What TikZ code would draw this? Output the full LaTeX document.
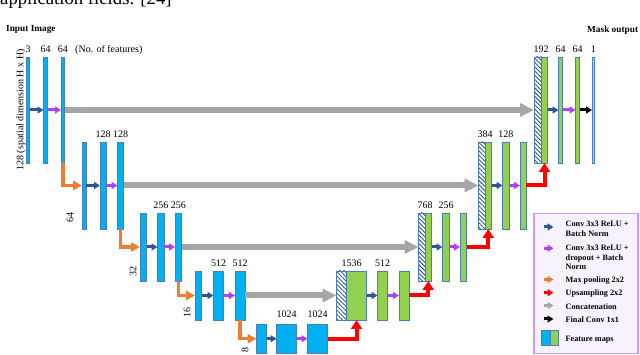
\documentclass[tikz,border=0pt]{standalone}
\usepackage{fontspec}
\setmainfont{Liberation Serif}
\usetikzlibrary{arrows.meta,patterns.meta}
\definecolor{fmblue}{HTML}{00B0F0}
\definecolor{fmgreen}{HTML}{92D050}
\definecolor{fmedge}{HTML}{4A7EBB}
\definecolor{hatchc}{HTML}{2F5597}
\definecolor{cvblue}{HTML}{2F5597}
\definecolor{cvpurple}{HTML}{B040FF}
\definecolor{mporange}{HTML}{ED7D31}
\definecolor{upred}{HTML}{FF0000}
\definecolor{catgray}{HTML}{A6A6A6}
\definecolor{legedge}{HTML}{CC99FF}
\definecolor{legfill}{HTML}{F8F2FF}
\definecolor{outfill}{HTML}{BDD7EE}
\newcommand{\fmap}[6]{\node[#6, minimum width={(#3-#2)*1pt}, minimum height={(#5-#4)*1pt}] (#1) at ({(#2+#3)/2},{(#4+#5)/2}) {};}
\tikzset{
  fmbase/.style={draw=fmedge, line width=0.7pt, inner sep=0pt, outer sep=0pt, rectangle},
  fmb/.style={fmbase, fill=fmblue},
  fmg/.style={fmbase, fill=fmgreen},
  fmh/.style={fmbase, pattern={Lines[angle=-45,distance=3pt,line width=0.9pt]}, pattern color=hatchc},
  fmo/.style={fmbase, fill=outfill},
  lbl/.style={font=\fontsize{10}{12}\selectfont, inner sep=0pt, text height=6.6pt, text depth=0pt},
  hdr/.style={font=\bfseries\fontsize{9.3}{11}\selectfont, inner sep=0pt, text height=6.2pt, text depth=0pt, anchor=west},
  legtxt/.style={font=\bfseries\fontsize{8.2}{10}\selectfont, inner sep=0pt, text height=5.4pt, text depth=0pt, anchor=west},
  small/.style={line width=3pt, -{Triangle[length=6pt,width=7pt]}},
  cv/.style={small, draw=cvblue},
  cvd/.style={small, draw=cvpurple},
  fin/.style={small, draw=black},
  catsmall/.style={small, draw=catgray},
  mp/.style={line width=3.5pt, draw=mporange, -{Triangle[length=9pt,width=9pt]}},
  mpsmall/.style={small, draw=mporange},
  up/.style={line width=4pt, draw=upred, -{Triangle[length=9pt,width=11pt]}},
  upsmall/.style={small, draw=upred},
  cat/.style={line width=6pt, draw=catgray, -{Triangle[length=14pt,width=13pt]}},
}
\begin{document}
\begin{tikzpicture}[x=1pt,y=-1pt]
\clip (0,0) rectangle (640,355);
\useasboundingbox (0,0) rectangle (640,355);
\fill[white] (0,0) rectangle (640,355);
% caption remnant
\node[anchor=base west, inner sep=0pt, font=\fontsize{18.7}{20}\selectfont] (cap) at (0,4.5) {application fields. [24]};
\node[hdr] (inimg) at (6,28) {Input Image};
\node[hdr] (maskout) at (587,29) {Mask output};
% encoder
\fmap{e11}{26.5}{29.5}{57}{163}{fmb}
\fmap{e12}{43.5}{47.5}{57}{163}{fmb}
\fmap{e13}{61}{64.5}{57}{163}{fmb}
\fmap{e21}{82}{86}{142}{229}{fmb}
\fmap{e22}{100}{106}{142}{229}{fmb}
\fmap{e23}{117.5}{123.5}{142}{229}{fmb}
\fmap{e31}{140}{146.5}{213}{281}{fmb}
\fmap{e32}{157.5}{164}{213}{281}{fmb}
\fmap{e33}{175}{181.5}{213}{281}{fmb}
\fmap{e41}{195}{201.5}{271}{320}{fmb}
\fmap{e42}{213.5}{223.5}{271}{320}{fmb}
\fmap{e43}{235}{245}{271}{320}{fmb}
\fmap{e51}{256.5}{266.5}{324}{353.5}{fmb}
\fmap{e52}{276.5}{296.5}{324}{353.5}{fmb}
\fmap{e53}{307.5}{327.5}{324}{353.5}{fmb}
% decoder
\fmap{h4}{336.5}{346.5}{271}{320}{fmh}
\fmap{g4}{346.5}{366.5}{271}{320}{fmg}
\fmap{d42}{377.5}{387.5}{271}{320}{fmg}
\fmap{d43}{399}{409}{271}{320}{fmg}
\fmap{h3}{418.5}{425}{213}{281}{fmh}
\fmap{g3}{425}{431.5}{213}{281}{fmg}
\fmap{d32}{442.5}{449.5}{213}{281}{fmg}
\fmap{d33}{460}{466.5}{213}{281}{fmg}
\fmap{h2}{478.5}{485}{142}{229}{fmh}
\fmap{g2}{485}{491.5}{142}{229}{fmg}
\fmap{d22}{502.5}{509}{142}{229}{fmg}
\fmap{d23}{520}{526}{142}{229}{fmg}
\fmap{h1}{534}{541.5}{57}{163}{fmh}
\fmap{g1}{541.5}{547.5}{57}{163}{fmg}
\fmap{d12}{558.5}{562.5}{57}{163}{fmg}
\fmap{d13}{575.5}{579.5}{57}{163}{fmg}
\fmap{out}{592}{594.5}{57}{163}{fmo}
% feature labels
\node[lbl] (n11) at (e11.north |- 0,49) {3};
\node[lbl] (n12) at (e12.north |- 0,49) {64};
\node[lbl] (n13) at (e13.north |- 0,49) {64};
\node[lbl, anchor=west] (nof) at (75,49) {(No. of features)};
\node[lbl] (n22) at (e22.north |- 0,134) {128};
\node[lbl] (n23) at (e23.north |- 0,134) {128};
\node[lbl] (n32) at (e32.north |- 0,205) {256};
\node[lbl] (n33) at (e33.north |- 0,205) {256};
\node[lbl] (n42) at (e42.north |- 0,263) {512};
\node[lbl] (n43) at (e43.north |- 0,263) {512};
\node[lbl] (n52) at (e52.north |- 0,314) {1024};
\node[lbl] (n53) at (e53.north |- 0,314) {1024};
\node[lbl] (m41) at (351.5,263) {1536};
\node[lbl] (m42) at (d42.north |- 0,263) {512};
\node[lbl] (m31) at (425,205) {768};
\node[lbl] (m32) at (d32.north |- 0,205) {256};
\node[lbl] (m21) at (485,134) {384};
\node[lbl] (m22) at (d22.north |- 0,134) {128};
\node[lbl] (m11) at (541,49) {192};
\node[lbl] (m12) at (d12.north |- 0,49) {64};
\node[lbl] (m13) at (d13.north |- 0,49) {64};
\node[lbl] (m14) at (out.north |- 0,49) {1};
% spatial labels
\node[lbl, rotate=90] (s1) at (20,110) {128 (spatial dimension H x H)};
\node[lbl, rotate=90] (s2) at (70,218) {64};
\node[lbl, rotate=90] (s3) at (133,272) {32};
\node[lbl, rotate=90] (s4) at (187,313) {16};
\node[lbl, rotate=90] (s5) at (245,350) {8};
% convolutions
\draw[cv] (e11.east) -- (e12.west);
\draw[cvd] (e12.east) -- (e13.west);
\draw[cv] (e21.east) -- (e22.west);
\draw[cvd] (e22.east) -- (e23.west);
\draw[cv] (e31.east) -- (e32.west);
\draw[cvd] (e32.east) -- (e33.west);
\draw[cv] (e41.east) -- (e42.west);
\draw[cvd] (e42.east) -- (e43.west);
\draw[cv] (e51.east) -- (e52.west);
\draw[cvd] (e52.east) -- (e53.west);
\draw[cv] (g4.east) -- (d42.west);
\draw[cvd] (d42.east) -- (d43.west);
\draw[cv] (g3.east) -- (d32.west);
\draw[cvd] (d32.east) -- (d33.west);
\draw[cv] (g2.east) -- (d22.west);
\draw[cvd] (d22.east) -- (d23.west);
\draw[cv] (g1.east) -- (d12.west);
\draw[cvd] (d12.east) -- (d13.west);
\draw[fin] (d13.east) -- (out.west);
% concatenations
\draw[cat] (e13.east) -- (h1.west);
\draw[cat] (e23.east) -- (h2.west);
\draw[cat] (e33.east) -- (h3.west);
\draw[cat] (e43.east) -- (h4.west);
% max pooling
\draw[mp] (e13.south) |- (e21.west);
\draw[mp] (e23.south) |- (e31.west);
\draw[mp] (e33.south) |- (e41.west);
\draw[mp] (e43.south) |- (e51.west);
% upsampling
\draw[up] (e53.east) -| (g4.south);
\draw[up] (d43.east) -| (g3.south);
\draw[up] (d33.east) -| (g2.south);
\draw[up] (d23.east) -| (g1.south);
% legend
\node[draw=legedge, fill=legfill, line width=1.2pt, minimum width=104pt, minimum height=140pt, inner sep=0pt] (leg) at (586,283.3) {};
\coordinate (la1) at (544,227); \coordinate (lb1) at (553.5,227);
\coordinate (la2) at (544,248.3); \coordinate (lb2) at (553.5,248.3);
\coordinate (la3) at (544,279.5); \coordinate (lb3) at (553.5,279.5);
\coordinate (la4) at (544,292.7); \coordinate (lb4) at (553.5,292.7);
\coordinate (la5) at (544,305.5); \coordinate (lb5) at (553.5,305.5);
\coordinate (la6) at (544,319); \coordinate (lb6) at (553.5,319);
\draw[cv] (la1) -- (lb1);
\draw[cvd] (la2) -- (lb2);
\draw[mpsmall] (la3) -- (lb3);
\draw[upsmall] (la4) -- (lb4);
\draw[catsmall] (la5) -- (lb5);
\draw[fin] (la6) -- (lb6);
\node[legtxt] (t1a) at (565.5,224) {Conv 3x3 ReLU +};
\node[legtxt] (t1b) at (565.5,234.3) {Batch Norm};
\node[legtxt] (t2a) at (565.5,247.7) {Conv 3x3 ReLU +};
\node[legtxt] (t2b) at (565.5,257.7) {dropout + Batch};
\node[legtxt] (t2c) at (565.5,267.3) {Norm};
\node[legtxt] (t3) at (565.5,280) {Max pooling 2x2};
\node[legtxt] (t4) at (565.5,293.3) {Upsampling 2x2};
\node[legtxt] (t5) at (565.5,307.3) {Concatenation};
\node[legtxt] (t6) at (565.5,320) {Final Conv 1x1};
\fmap{lfb}{541.7}{550}{330}{345}{fmb}
\fmap{lfg}{550}{558.3}{330}{345}{fmg}
\node[legtxt] (t7) at (565.5,339) {Feature maps};
\end{tikzpicture}
\end{document}
